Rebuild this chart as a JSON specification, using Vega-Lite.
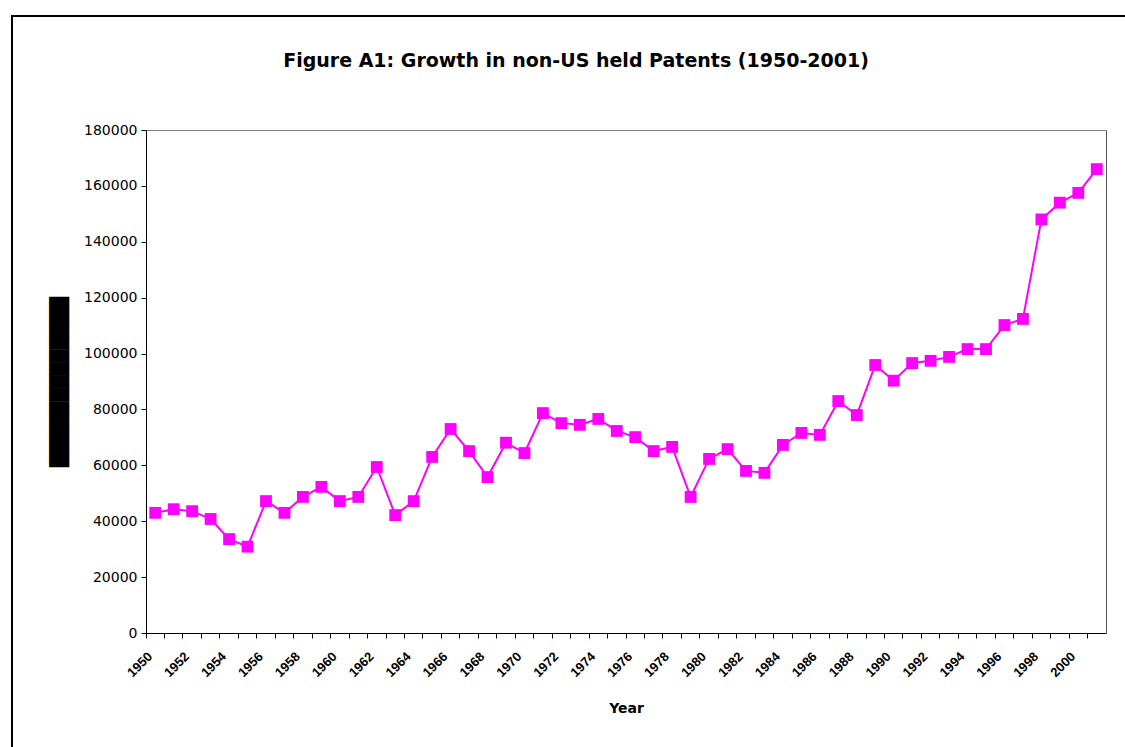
{
  "$schema": "https://vega.github.io/schema/vega-lite/v6.json",
  "autosize": "none",
  "padding": {"left": 12, "top": 16, "right": 0, "bottom": 0},
  "width": 1128,
  "height": 760,
  "background": "white",
  "config": {
    "font": "Liberation Sans",
    "view": {"stroke": "black", "strokeWidth": 2},
    "axis": {"labelColor": "black", "titleColor": "black", "tickColor": "black", "domainColor": "black", "grid": false}
  },
  "title": {
    "text": "Figure A1: Growth in non-US held Patents (1950-2001)",
    "font": "DejaVu Sans",
    "fontSize": 19,
    "fontWeight": "bold",
    "color": "black",
    "anchor": "middle",
    "offset": -55
  },
  "data": {
    "values": [
      {"year": 1950, "patents": 43000},
      {"year": 1951, "patents": 44300},
      {"year": 1952, "patents": 43600},
      {"year": 1953, "patents": 40800},
      {"year": 1954, "patents": 33600},
      {"year": 1955, "patents": 30900},
      {"year": 1956, "patents": 47200},
      {"year": 1957, "patents": 43000},
      {"year": 1958, "patents": 48700},
      {"year": 1959, "patents": 52300},
      {"year": 1960, "patents": 47200},
      {"year": 1961, "patents": 48700},
      {"year": 1962, "patents": 59400},
      {"year": 1963, "patents": 42200},
      {"year": 1964, "patents": 47200},
      {"year": 1965, "patents": 63000},
      {"year": 1966, "patents": 73000},
      {"year": 1967, "patents": 65100},
      {"year": 1968, "patents": 55800},
      {"year": 1969, "patents": 68100},
      {"year": 1970, "patents": 64400},
      {"year": 1971, "patents": 78700},
      {"year": 1972, "patents": 75100},
      {"year": 1973, "patents": 74500},
      {"year": 1974, "patents": 76600},
      {"year": 1975, "patents": 72300},
      {"year": 1976, "patents": 70100},
      {"year": 1977, "patents": 65100},
      {"year": 1978, "patents": 66600},
      {"year": 1979, "patents": 48700},
      {"year": 1980, "patents": 62300},
      {"year": 1981, "patents": 65800},
      {"year": 1982, "patents": 58000},
      {"year": 1983, "patents": 57300},
      {"year": 1984, "patents": 67300},
      {"year": 1985, "patents": 71600},
      {"year": 1986, "patents": 70900},
      {"year": 1987, "patents": 83000},
      {"year": 1988, "patents": 78000},
      {"year": 1989, "patents": 95900},
      {"year": 1990, "patents": 90300},
      {"year": 1991, "patents": 96600},
      {"year": 1992, "patents": 97400},
      {"year": 1993, "patents": 98800},
      {"year": 1994, "patents": 101600},
      {"year": 1995, "patents": 101600},
      {"year": 1996, "patents": 110200},
      {"year": 1997, "patents": 112400},
      {"year": 1998, "patents": 148000},
      {"year": 1999, "patents": 154000},
      {"year": 2000, "patents": 157500},
      {"year": 2001, "patents": 166000}
    ]
  },
  "layer": [
    {
      "mark": {"type": "line", "color": "#FF00FF", "strokeWidth": 2},
      "encoding": {
        "x": {
          "field": "year",
          "type": "ordinal",
          "bandPosition": 0.5,
          "scale": {"type": "band", "paddingInner": 0, "paddingOuter": 0, "range": [134, 1094]},
          "axis": {
            "orient": "bottom",
            "offset": -143,
            "bandPosition": 0,
            "tickSize": 5,
            "labelAngle": -45,
            "labelAlign": "right",
            "labelBaseline": "middle",
            "labelFontSize": 13,
            "labelFontWeight": "bold",
            "labelPadding": 16,
            "labelOffset": -5,
            "labelExpr": "datum.value % 2 == 0 ? datum.label : ''",
            "title": "Year",
            "titleFont": "DejaVu Sans",
            "titleFontSize": 14,
            "titleFontWeight": "bold",
            "titlePadding": 22
          }
        },
        "y": {
          "field": "patents",
          "type": "quantitative",
          "scale": {"domain": [0, 180000], "range": [617, 114], "nice": false},
          "axis": {
            "orient": "left",
            "offset": -134,
            "values": [0, 20000, 40000, 60000, 80000, 100000, 120000, 140000, 160000, 180000],
            "format": "d",
            "tickSize": 5,
            "labelFont": "DejaVu Sans",
            "labelFontSize": 14,
            "labelPadding": 4,
            "title": "█████████████",
            "titleFont": "DejaVu Sans",
            "titleFontSize": 17,
            "titleFontWeight": "normal",
            "titlePadding": 15
          }
        }
      }
    },
    {
      "mark": {"type": "square", "color": "#FF00FF", "filled": true, "opacity": 1, "size": 140},
      "encoding": {
        "x": {
          "field": "year",
          "type": "ordinal",
          "bandPosition": 0.5,
          "axis": {
            "orient": "top",
            "offset": -114,
            "domainColor": "#808080",
            "ticks": false,
            "labels": false,
            "title": null
          }
        },
        "y": {
          "field": "patents",
          "type": "quantitative",
          "axis": {
            "orient": "right",
            "offset": -34,
            "domainColor": "#555555",
            "ticks": false,
            "labels": false,
            "title": null
          }
        }
      }
    }
  ],
  "resolve": {"axis": {"x": "independent", "y": "independent"}}
}
